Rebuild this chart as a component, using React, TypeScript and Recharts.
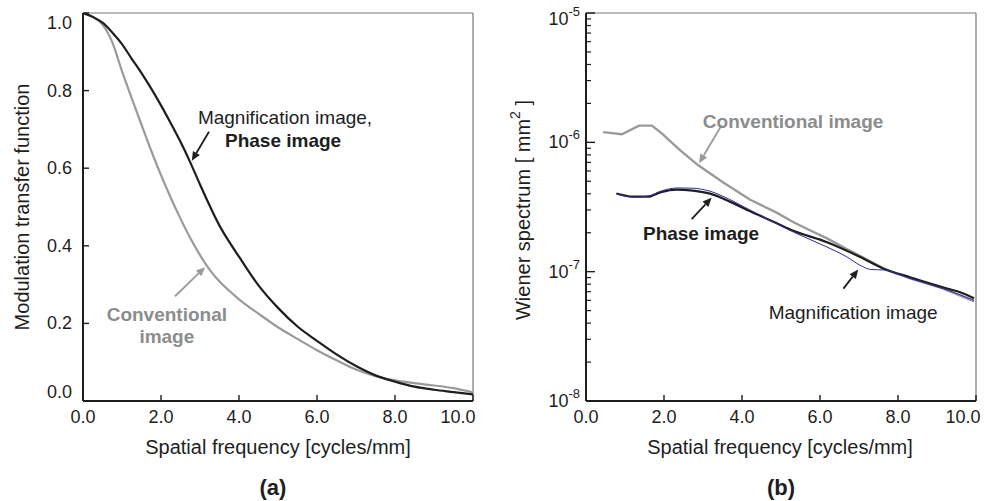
import React from "react";
import { LineChart, Line, XAxis, YAxis, ReferenceLine, ReferenceDot } from "recharts";

const FONT = '"Liberation Sans", Arial, Helvetica, sans-serif';
const INK = "#1e1e1e";
const GREY = "#9a9a9a";
const GREY_TEXT = "#8c8c8c";
const BLUE = "#2d2d96";

// (a) Modulation transfer function
const mtfFreq = [0, 0.25, 0.5, 0.75, 1, 1.25, 1.5, 1.75, 2, 2.25, 2.5, 2.75, 3, 3.25, 3.5, 3.75, 4, 4.5, 5, 5.5, 6, 6.5, 7, 7.5, 8, 8.5, 9, 9.5, 10];
const mtfPhase = [1.0, 0.99, 0.975, 0.95, 0.92, 0.882, 0.845, 0.805, 0.762, 0.716, 0.668, 0.615, 0.558, 0.503, 0.452, 0.41, 0.372, 0.298, 0.24, 0.192, 0.155, 0.12, 0.09, 0.066, 0.05, 0.037, 0.029, 0.023, 0.017];
const mtfConventional = [1.0, 0.99, 0.97, 0.925, 0.85, 0.78, 0.712, 0.645, 0.582, 0.524, 0.47, 0.42, 0.376, 0.338, 0.308, 0.284, 0.262, 0.225, 0.19, 0.16, 0.131, 0.105, 0.081, 0.064, 0.053, 0.046, 0.04, 0.033, 0.022];
const mtfXTicks = [0, 2, 4, 6, 8, 10];
const mtfYTicks = [0, 0.2, 0.4, 0.6, 0.8, 1.0];

// (b) Wiener spectrum [mm^2]
const wsConvFreq = [0.44, 0.92, 1.36, 1.69, 1.95, 2.41, 2.87, 3.51, 4.21, 4.9, 5.31, 5.74, 6.18, 6.64, 7.1, 7.62, 8.31, 9.15, 9.95];
const wsConvValues = [1.2e-6, 1.155e-6, 1.346e-6, 1.346e-6, 1.167e-6, 8.71e-7, 6.67e-7, 4.92e-7, 3.6e-7, 2.85e-7, 2.42e-7, 2.09e-7, 1.81e-7, 1.52e-7, 1.29e-7, 1.06e-7, 8.89e-8, 7.43e-8, 5.9e-8];
const wsPhaseFreq = [0.78, 1.21, 1.59, 1.92, 2.33, 2.74, 3.18, 3.69, 4.21, 4.72, 5.28, 6.18, 7.03, 7.62, 8.31, 9.15, 9.59, 9.95];
const wsPhaseValues = [4.02e-7, 3.8e-7, 3.8e-7, 4.12e-7, 4.31e-7, 4.23e-7, 4.01e-7, 3.48e-7, 2.93e-7, 2.5e-7, 2.09e-7, 1.69e-7, 1.3e-7, 1.06e-7, 9.05e-8, 7.57e-8, 6.93e-8, 6.23e-8];
const wsMagFreq = [0.78, 1.21, 1.59, 1.92, 2.34, 2.74, 3.18, 3.69, 4.21, 4.72, 5.31, 6.18, 6.69, 7.03, 7.3, 7.65, 8.31, 9.15, 9.95];
const wsMagValues = [4.01e-7, 3.77e-7, 3.84e-7, 4.19e-7, 4.44e-7, 4.42e-7, 4.19e-7, 3.61e-7, 2.99e-7, 2.5e-7, 2.03e-7, 1.55e-7, 1.3e-7, 1.12e-7, 1.04e-7, 1.03e-7, 8.85e-8, 7.4e-8, 6.01e-8];
const wsXTicks = [0, 2, 4, 6, 8, 10];
const wsYTicks = [
  1e-8, 2e-8, 3e-8, 4e-8, 5e-8, 6e-8, 7e-8, 8e-8, 9e-8,
  1e-7, 2e-7, 3e-7, 4e-7, 5e-7, 6e-7, 7e-7, 8e-7, 9e-7,
  1e-6, 2e-6, 3e-6, 4e-6, 5e-6, 6e-6, 7e-6, 8e-6, 9e-6,
  1e-5,
];

const toPoints = (xs: number[], ys: number[]) => xs.map((x, i) => ({ x, y: ys[i] }));

const mtfPhaseData = toPoints(mtfFreq, mtfPhase);
const mtfConvData = toPoints(mtfFreq, mtfConventional);
const wsConvData = toPoints(wsConvFreq, wsConvValues);
const wsPhaseData = toPoints(wsPhaseFreq, wsPhaseValues);
const wsMagData = toPoints(wsMagFreq, wsMagValues);

// plot geometry (chart-local)
const W = 500;
const H = 501;
const TOP = 13;
const BOTTOM = 401;

// inward tick + label for the linear y axis
function MtfYTick({ x, y, payload }: any) {
  const v = payload.value;
  const dy = v === 1 ? 10 : v === 0 ? -9 : 0;
  return (
    <g>
      <line x1={x} x2={x + 6} y1={y} y2={y} stroke={INK} strokeWidth={1.4} />
      <text x={x - 11} y={y + dy + 6} textAnchor="end" fontSize={18} fill={INK} fontFamily={FONT}>
        {v.toFixed(1)}
      </text>
    </g>
  );
}

const makeXTick = (lastShift: number) => ({ x, y, payload }: any) => {
  const v = payload.value;
  const dx = v === 10 ? lastShift : 0;
  return (
    <g>
      <line x1={x} x2={x} y1={y} y2={y - 6} stroke={INK} strokeWidth={1.4} />
      <text x={x + dx} y={y + 22} textAnchor="middle" fontSize={18} fill={INK} fontFamily={FONT}>
        {v.toFixed(1)}
      </text>
    </g>
  );
};

function LogYTick({ x, y, payload }: any) {
  const v = payload.value;
  const lg = Math.log10(v);
  const exp = Math.round(lg);
  const major = Math.abs(lg - exp) < 1e-6;
  if (!major) {
    return <line x1={x} x2={x + 5} y1={y} y2={y} stroke={INK} strokeWidth={1.2} />;
  }
  const dy = exp === -5 ? 6 : 0;
  return (
    <g>
      <line x1={x} x2={x + 9} y1={y} y2={y} stroke={INK} strokeWidth={1.4} />
      <text x={x - 6} y={y + dy + 6} textAnchor="end" fontSize={18} fill={INK} fontFamily={FONT}>
        <tspan>10</tspan>
        <tspan dy={-9} fontSize={13}>{String(exp)}</tspan>
      </text>
    </g>
  );
}

const arrowShape = (color: string) => (props: any) => {
  const { x1, y1, x2, y2 } = props;
  const ang = Math.atan2(y2 - y1, x2 - x1);
  const L = 9;
  const hw = 4;
  const bx = x2 - L * Math.cos(ang);
  const by = y2 - L * Math.sin(ang);
  const p1 = `${bx + hw * Math.sin(ang)},${by - hw * Math.cos(ang)}`;
  const p2 = `${bx - hw * Math.sin(ang)},${by + hw * Math.cos(ang)}`;
  return (
    <g>
      <line x1={x1} y1={y1} x2={bx} y2={by} stroke={color} strokeWidth={1.8} />
      <polygon points={`${x2},${y2} ${p1} ${p2}`} fill={color} />
    </g>
  );
};

const textShape = (label: string, color: string, bold = false) => (props: any) => (
  <text
    x={props.cx}
    y={props.cy + 6.5}
    textAnchor="middle"
    fontSize={19}
    fontWeight={bold ? "bold" : "normal"}
    fill={color}
    fontFamily={FONT}
  >
    {label}
  </text>
);

const xTitle = (cx: number, tagX: number, tag: string) => () => (
  <g>
    <text x={cx} y={BOTTOM + 53} textAnchor="middle" fontSize={20} fill={INK} fontFamily={FONT}>
      Spatial frequency [cycles/mm]
    </text>
    <text x={tagX} y={BOTTOM + 94} textAnchor="middle" fontSize={22} fontWeight="bold" fill={INK} fontFamily={FONT}>
      {tag}
    </text>
  </g>
);

function MtfPanel() {
  return (
    <LineChart width={W} height={H} margin={{ top: TOP, right: 27, bottom: 70, left: 33 }}>
      <XAxis
        type="number"
        dataKey="x"
        domain={[0, 10]}
        ticks={mtfXTicks}
        interval={0}
        allowDataOverflow
        height={30}
        tickSize={0}
        tickMargin={0}
        tickLine={false}
        axisLine={{ stroke: INK, strokeWidth: 2 }}
        tick={makeXTick(-15)}
        label={{ content: xTitle(278, 273, "(a)") }}
      />
      <YAxis
        type="number"
        domain={[0, 1]}
        ticks={mtfYTicks}
        interval={0}
        allowDataOverflow
        width={50}
        tickSize={0}
        tickMargin={0}
        tickLine={false}
        axisLine={{ stroke: INK, strokeWidth: 2 }}
        tick={MtfYTick}
        label={{
          content: () => (
            <text
              x={22}
              y={207}
              transform="rotate(-90, 22, 207)"
              textAnchor="middle"
              dominantBaseline="central"
              fontSize={20}
              fill={INK}
              fontFamily={FONT}
            >
              Modulation transfer function
            </text>
          ),
        }}
      />
      <ReferenceLine y={1} stroke="#777" strokeWidth={1.2} />
      <ReferenceLine x={10} stroke="#777" strokeWidth={1.2} />
      <Line data={mtfConvData} dataKey="y" type="monotone" stroke={GREY} strokeWidth={2.2} dot={false} activeDot={false} isAnimationActive={false} />
      <Line data={mtfPhaseData} dataKey="y" type="monotone" stroke={INK} strokeWidth={2.2} dot={false} activeDot={false} isAnimationActive={false} />
      <ReferenceDot x={5.18} y={0.73} r={0} shape={textShape("Magnification image,", INK)} />
      <ReferenceDot x={5.13} y={0.671} r={0} shape={textShape("Phase image", INK, true)} />
      <ReferenceLine segment={[{ x: 3.23, y: 0.694 }, { x: 2.79, y: 0.619 }]} shape={arrowShape(INK)} />
      <ReferenceDot x={2.15} y={0.224} r={0} shape={textShape("Conventional", GREY_TEXT, true)} />
      <ReferenceDot x={2.15} y={0.165} r={0} shape={textShape("image", GREY_TEXT, true)} />
      <ReferenceLine segment={[{ x: 2.36, y: 0.27 }, { x: 3.13, y: 0.345 }]} shape={arrowShape(GREY)} />
    </LineChart>
  );
}

function WienerPanel() {
  return (
    <LineChart width={W} height={H} margin={{ top: TOP, right: 24, bottom: 70, left: 26 }}>
      <XAxis
        type="number"
        dataKey="x"
        domain={[0, 10]}
        ticks={wsXTicks}
        interval={0}
        allowDataOverflow
        height={30}
        tickSize={0}
        tickMargin={0}
        tickLine={false}
        axisLine={{ stroke: INK, strokeWidth: 2 }}
        tick={makeXTick(-13)}
        label={{ content: xTitle(280, 281, "(b)") }}
      />
      <YAxis
        type="number"
        scale="log"
        domain={[1e-8, 1e-5]}
        ticks={wsYTicks}
        interval={0}
        allowDataOverflow
        width={60}
        tickSize={0}
        tickMargin={0}
        tickLine={false}
        axisLine={{ stroke: INK, strokeWidth: 2 }}
        tick={LogYTick}
        label={{
          content: () => (
            <text
              x={23}
              y={210}
              transform="rotate(-90, 23, 210)"
              textAnchor="middle"
              dominantBaseline="central"
              fontSize={20}
              fill={INK}
              fontFamily={FONT}
            >
              <tspan>Wiener spectrum [ mm</tspan>
              <tspan dy={-8} fontSize={14}>2</tspan>
              <tspan dy={8}> ]</tspan>
            </text>
          ),
        }}
      />
      <ReferenceLine y={1e-5} stroke="#777" strokeWidth={1.2} />
      <ReferenceLine x={10} stroke="#777" strokeWidth={1.2} />
      <Line data={wsConvData} dataKey="y" type="linear" stroke={GREY} strokeWidth={2.4} dot={false} activeDot={false} isAnimationActive={false} />
      <Line data={wsPhaseData} dataKey="y" type="monotone" stroke={INK} strokeWidth={2.2} dot={false} activeDot={false} isAnimationActive={false} />
      <Line data={wsMagData} dataKey="y" type="monotone" stroke={BLUE} strokeWidth={1} dot={false} activeDot={false} isAnimationActive={false} />
      <ReferenceDot x={5.31} y={1.44e-6} r={0} shape={textShape("Conventional image", GREY_TEXT, true)} />
      <ReferenceLine segment={[{ x: 3.48, y: 1.36e-6 }, { x: 2.9, y: 6.9e-7 }]} shape={arrowShape(GREY)} />
      <ReferenceDot x={2.95} y={1.98e-7} r={0} shape={textShape("Phase image", INK, true)} />
      <ReferenceLine segment={[{ x: 2.71, y: 2.55e-7 }, { x: 3.22, y: 3.73e-7 }]} shape={arrowShape(INK)} />
      <ReferenceDot x={6.85} y={4.85e-8} r={0} shape={textShape("Magnification image", INK)} />
      <ReferenceLine segment={[{ x: 6.6, y: 7.4e-8 }, { x: 6.98, y: 1.04e-7 }]} shape={arrowShape(INK)} />
    </LineChart>
  );
}

export default function App() {
  return (
    <div style={{ position: "absolute", left: 0, top: 0, width: 1000, height: 501, background: "#fff", fontFamily: FONT }}>
      <div style={{ position: "absolute", left: 0, top: 0 }}>
        <MtfPanel />
      </div>
      <div style={{ position: "absolute", left: 500, top: 0 }}>
        <WienerPanel />
      </div>
    </div>
  );
}
